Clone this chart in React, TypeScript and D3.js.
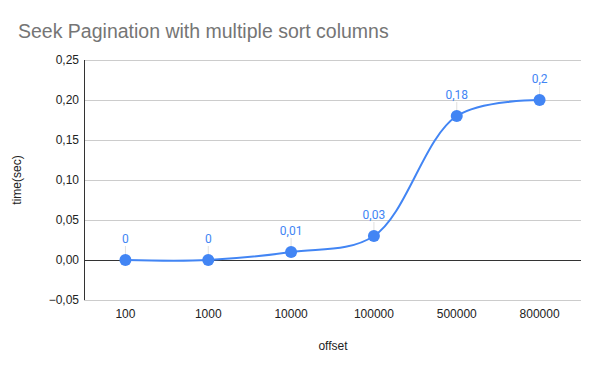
import React, { useEffect, useRef } from "react";
import * as d3 from "d3";

const WIDTH = 600;
const HEIGHT = 371;
const MARGINS = { LEFT: 84, RIGHT: 19, TOP: 60, BOTTOM: 71 };

const offsets = ["100", "1000", "10000", "100000", "500000", "800000"];
const times = [0, 0, 0.01, 0.03, 0.18, 0.2];
const timeLabels = ["0", "0", "0,01", "0,03", "0,18", "0,2"];
const yTicks = [-0.05, 0, 0.05, 0.1, 0.15, 0.2, 0.25];

const BLUE = "#4285f4";
const FONT = "'Liberation Sans', Arial, sans-serif";
const LABEL_FONT = "Roboto, Arial, sans-serif";

const App: React.FC = () => {
  const gRef = useRef<SVGGElement | null>(null);

  useEffect(() => {
    const innerW = WIDTH - MARGINS.LEFT - MARGINS.RIGHT;
    const innerH = HEIGHT - MARGINS.TOP - MARGINS.BOTTOM;
    const g = d3.select(gRef.current);
    g.selectAll("*").remove();

    const x = d3.scaleBand<string>().domain(offsets).range([0, innerW]);
    const y = d3.scaleLinear().domain([-0.05, 0.25]).range([innerH, 0]);
    const cx = (d: string) => (x(d) ?? 0) + x.bandwidth() / 2;
    const fmt = (v: number) => d3.format(".2f")(v).replace(".", ",");

    // gridlines
    g.selectAll(".grid")
      .data(yTicks)
      .enter()
      .append("line")
      .attr("x1", 0)
      .attr("x2", innerW)
      .attr("y1", (d) => Math.round(y(d)) + 0.5)
      .attr("y2", (d) => Math.round(y(d)) + 0.5)
      .attr("stroke", (d) => (d === 0 ? "#333" : "#ccc"))
      .attr("stroke-width", 1);

    // left axis line
    g.append("line")
      .attr("x1", 0.5)
      .attr("x2", 0.5)
      .attr("y1", 0)
      .attr("y2", innerH)
      .attr("stroke", "#333");

    // y tick labels
    g.selectAll(".ylab")
      .data(yTicks)
      .enter()
      .append("text")
      .attr("x", -5)
      .attr("y", (d) => y(d))
      .attr("dy", "0.35em")
      .attr("text-anchor", "end")
      .attr("font-family", FONT)
      .attr("font-size", 12)
      .attr("fill", "#222")
      .text((d) => fmt(d));

    // x tick labels
    g.selectAll(".xlab")
      .data(offsets)
      .enter()
      .append("text")
      .attr("x", (d) => cx(d))
      .attr("y", innerH + 18)
      .attr("text-anchor", "middle")
      .attr("font-family", FONT)
      .attr("font-size", 12)
      .attr("fill", "#222")
      .text((d) => d);

    const pts = offsets.map((o, i) => ({ o, v: times[i], label: timeLabels[i] }));

    const line = d3
      .line<{ o: string; v: number }>()
      .x((d) => cx(d.o))
      .y((d) => y(d.v))
      .curve(d3.curveCatmullRom.alpha(0.5));

    g.append("path")
      .datum(pts)
      .attr("d", line)
      .attr("fill", "none")
      .attr("stroke", BLUE)
      .attr("stroke-width", 2);

    // leader lines
    g.selectAll(".lead")
      .data(pts)
      .enter()
      .append("line")
      .attr("x1", (d) => cx(d.o))
      .attr("x2", (d) => cx(d.o))
      .attr("y1", (d) => y(d.v) - 14)
      .attr("y2", (d) => y(d.v) - 5)
      .attr("stroke", "#e0e0e0");

    g.selectAll(".pt")
      .data(pts)
      .enter()
      .append("circle")
      .attr("cx", (d) => cx(d.o))
      .attr("cy", (d) => y(d.v))
      .attr("r", 6)
      .attr("fill", BLUE);

    g.selectAll(".dlab")
      .data(pts)
      .enter()
      .append("text")
      .attr("x", (d) => cx(d.o))
      .attr("y", (d) => y(d.v) - 17)
      .attr("text-anchor", "middle")
      .attr("font-family", LABEL_FONT)
      .attr("font-size", 12)
      .attr("fill", BLUE)
      .text((d) => d.label);
  }, []);

  return (
    <div style={{ position: "absolute", left: 0, top: 0 }}>
      <svg width={WIDTH} height={HEIGHT} style={{ display: "block", background: "#fff" }}>
        <text x={18} y={38} fontFamily={FONT} fontSize={19.5} fill="#757575">
          Seek Pagination with multiple sort columns
        </text>
        <text
          transform="translate(21, 180) rotate(-90)"
          textAnchor="middle"
          fontFamily={FONT}
          fontSize={12}
          fill="#222"
        >
          time(sec)
        </text>
        <text x={333} y={350} textAnchor="middle" fontFamily={FONT} fontSize={12} fill="#222">
          offset
        </text>
        <g ref={gRef} transform={`translate(${MARGINS.LEFT}, ${MARGINS.TOP})`} />
      </svg>
    </div>
  );
};

export default App;
